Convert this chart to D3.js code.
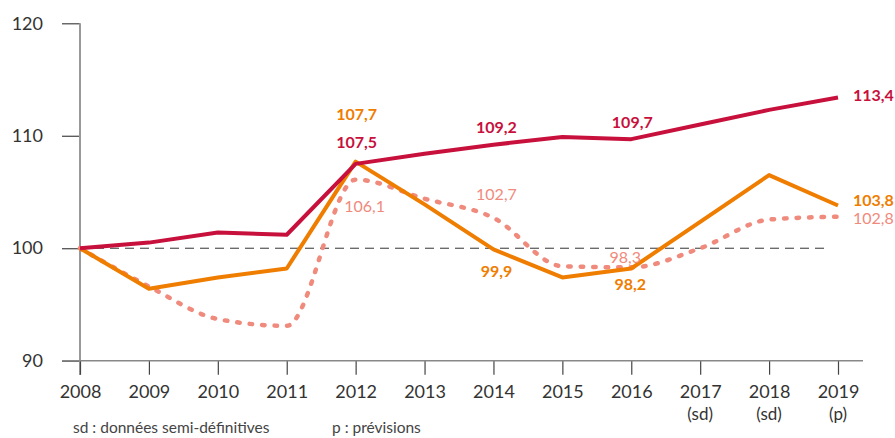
<!DOCTYPE html>
<html>
<head>
<meta charset="utf-8">
<script src="https://cdn.jsdelivr.net/npm/d3@7"></script>
<style>
  body { margin: 0; background: #fff; }
  svg { display: block; font-family: Lato, "Open Sans", sans-serif; }
</style>
</head>
<body>
<svg id="drawing_region"></svg>
<script>
// years and their labels (second line for sd / p)
const years = [2008, 2009, 2010, 2011, 2012, 2013, 2014, 2015, 2016, 2017, 2018, 2019];
const yearNotes = ["", "", "", "", "", "", "", "", "", "(sd)", "(sd)", "(p)"];
const yTicks = [90, 100, 110, 120];

// series (base 100 in 2008)
const redValues    = [100, 100.5, 101.4, 101.2, 107.5, 108.4, 109.2, 109.9, 109.7, 111.0, 112.3, 113.4];
const orangeValues = [100, 96.4, 97.4, 98.2, 107.7, 103.9, 99.9, 97.4, 98.2, 102.35, 106.5, 103.8];
const salmonValues = [100, 96.6, 93.7, 93.1, 106.1, 104.4, 102.7, 98.4, 98.3, 100.0, 102.55, 102.8];

// years that get a value label, per series
const redLabelYears    = [2012, 2014, 2016, 2019];
const orangeLabelYears = [2012, 2014, 2016, 2019];
const salmonLabelYears = [2012, 2014, 2016, 2019];

const footnotes = ["sd : données semi-définitives", "p : prévisions"];

const width = 895, height = 438;

const svg = d3.select('#drawing_region')
    .attr('width', width)
    .attr('height', height);

const xscale = d3.scaleLinear()
    .domain([2008, 2019])
    .range([80, 838]);

const yscale = d3.scaleLinear()
    .domain([90, 120])
    .range([360.7, 23.3]);

// y axis
const yaxis = d3.axisLeft(yscale)
    .tickValues(yTicks)
    .tickSize(18)
    .tickPadding(19)
    .tickSizeOuter(0);

const yaxis_group = svg.append('g')
    .attr('transform', `translate(${xscale(2008)}, 0)`)
    .call(yaxis);
yaxis_group.select('.domain').remove();
yaxis_group.selectAll('line').attr('stroke', '#444').attr('stroke-width', 1.2);
yaxis_group.selectAll('text')
    .attr('font-family', 'Lato, sans-serif')
    .attr('font-size', 18)
    .attr('fill', '#333');

svg.append('line')
    .attr('x1', xscale(2008)).attr('x2', xscale(2008))
    .attr('y1', yscale(120)).attr('y2', 375)
    .attr('stroke', '#999')
    .attr('stroke-width', 2);

// x axis
const xaxis = d3.axisBottom(xscale)
    .tickValues(years)
    .tickSize(14)
    .tickPadding(11)
    .tickFormat(d3.format('d'))
    .tickSizeOuter(0);

const xaxis_group = svg.append('g')
    .attr('transform', `translate(0, ${yscale(90)})`)
    .call(xaxis);
xaxis_group.select('.domain').remove();
xaxis_group.selectAll('line').attr('stroke', '#444').attr('stroke-width', 1.2);
xaxis_group.selectAll('text')
    .attr('font-family', 'Lato, sans-serif')
    .attr('font-size', 18)
    .attr('fill', '#333');

svg.append('line')
    .attr('x1', 62).attr('x2', 863)
    .attr('y1', yscale(90)).attr('y2', yscale(90))
    .attr('stroke', '#888')
    .attr('stroke-width', 1.6);

// second line under years
svg.append('g').selectAll('text')
    .data(years.map((y, i) => ({year: y, note: yearNotes[i]})).filter(d => d.note))
    .enter()
    .append('text')
    .attr('x', d => xscale(d.year))
    .attr('y', 420)
    .attr('text-anchor', 'middle')
    .attr('font-size', 17)
    .attr('fill', '#333')
    .text(d => d.note);

// reference line at 100
svg.append('line')
    .attr('x1', xscale(2008)).attr('x2', 830)
    .attr('y1', yscale(100)).attr('y2', yscale(100))
    .attr('stroke', '#333')
    .attr('stroke-width', 1)
    .attr('stroke-dasharray', '9,6');

const toPoints = vals => vals.map((v, i) => ({year: years[i], value: v}));

const line = d3.line()
    .x(d => xscale(d.year))
    .y(d => yscale(d.value));

const smooth = d3.line()
    .x(d => xscale(d.year))
    .y(d => yscale(d.value))
    .curve(d3.curveMonotoneX);

const red = '#c8103c', orange = '#ef7d00', salmon = '#f08a7c';

svg.append('path')
    .attr('d', smooth(toPoints(salmonValues)))
    .attr('fill', 'none')
    .attr('stroke', salmon)
    .attr('stroke-width', 4.5)
    .attr('stroke-linecap', 'round')
    .attr('stroke-dasharray', '2.5,10');

svg.append('path')
    .attr('d', line(toPoints(orangeValues)))
    .attr('fill', 'none')
    .attr('stroke', orange)
    .attr('stroke-width', 4)
    .attr('stroke-linejoin', 'round');

svg.append('path')
    .attr('d', line(toPoints(redValues)))
    .attr('fill', 'none')
    .attr('stroke', red)
    .attr('stroke-width', 4)
    .attr('stroke-linejoin', 'round');

// value labels
const fmt = v => d3.format('.1f')(v).replace('.', ',');

function addLabels(vals, labelYears, color, weight, offsets) {
    const pts = toPoints(vals).filter(d => labelYears.includes(d.year));
    svg.append('g').selectAll('text')
        .data(pts)
        .enter()
        .append('text')
        .attr('x', (d, i) => xscale(d.year) + offsets[i][0])
        .attr('y', (d, i) => yscale(d.value) + offsets[i][1])
        .attr('text-anchor', d => d.year === 2019 ? 'start' : 'middle')
        .attr('font-size', 16)
        .attr('font-weight', weight)
        .attr('fill', color)
        .text(d => fmt(d.value));
}

addLabels(redValues, redLabelYears, red, 'bold', [[1, -16], [3, -11.5], [1, -11], [15, 3.5]]);
addLabels(orangeValues, orangeLabelYears, orange, 'bold', [[1, -41.5], [3, 28], [-1, 22], [15, 1]]);
addLabels(salmonValues, salmonLabelYears, salmon, 'normal', [[9, 32], [3, -17.5], [-6, -4], [15, 7.5]]);

// footnotes
svg.append('text')
    .attr('x', 73).attr('y', 433)
    .attr('font-size', 15.5)
    .attr('fill', '#444')
    .text(footnotes[0]);

svg.append('text')
    .attr('x', 332).attr('y', 433)
    .attr('font-size', 15.5)
    .attr('fill', '#444')
    .text(footnotes[1]);
</script>
</body>
</html>
